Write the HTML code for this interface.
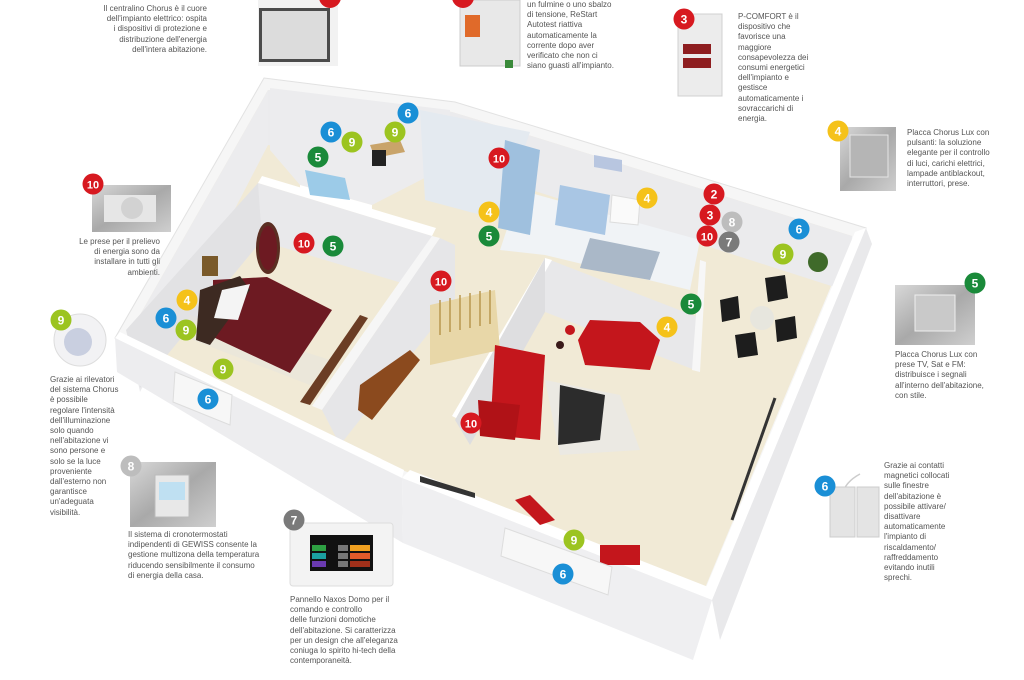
<!DOCTYPE html>
<html><head><meta charset="utf-8"><style>
html,body{margin:0;padding:0;background:#fff;}
body{width:1024px;height:680px;overflow:hidden;position:relative;font-family:"Liberation Sans",sans-serif;}
.t{position:absolute;font-size:8px;line-height:10.2px;color:#555;white-space:nowrap;}
svg{position:absolute;left:0;top:0;}
</style></head><body>
<svg width="1024" height="680" viewBox="0 0 1024 680">
<defs>
<linearGradient id="met" x1="0" y1="0" x2="1" y2="1"><stop offset="0" stop-color="#d8d8d8"/><stop offset="0.5" stop-color="#a9a9a9"/><stop offset="1" stop-color="#cfcfcf"/></linearGradient>
</defs>
<!-- house outer wall tops -->
<polygon points="264,78 455,102 540,128 866,228 783,420 712,600 402,478 115,338" fill="#f6f6f6" stroke="#e2e2e2"/>
<!-- floor -->
<polygon points="268,90 452,112 538,138 852,236 775,420 705,588 402,470 128,336" fill="#f1ead6"/>
<!-- back wall interior faces -->
<polygon points="268,90 452,112 538,138 852,236 850,292 538,192 452,166 268,145" fill="#ebebed"/>
<polygon points="268,90 268,145 140,392 128,336" fill="#ececee"/>
<!-- small bedroom area walls -->
<polygon points="270,88 450,110 450,165 372,205 300,185 270,150" fill="#ececee"/>
<polygon points="300,185 372,205 372,213 300,193" fill="#fff"/>
<!-- bathroom -->
<polygon points="420,110 530,132 500,220 425,200" fill="#e4eaf0"/>
<!-- kitchen floor tiles -->
<polygon points="520,190 700,240 690,290 545,255 500,250" fill="#f0f3f6"/>
<polygon points="590,238 660,252 650,280 580,268" fill="#aab8c8"/>
<!-- kitchen counters blue -->
<polygon points="505,140 540,150 530,235 498,228" fill="#9fc0de"/>
<polygon points="560,185 610,195 605,235 555,225" fill="#a9c6e4"/>
<polygon points="612,195 640,200 638,225 610,222" fill="#fafafa" stroke="#ddd"/>
<polygon points="594,155 622,160 622,172 594,167" fill="#b8c6e0"/>
<!-- bedroom walls -->
<polygon points="258,183 432,236 432,292 258,240" fill="#e9e9eb"/>
<polygon points="258,183 262,240 140,388 126,330" fill="#e2e2e4"/>
<polygon points="258,183 432,236 436,228 262,176" fill="#fff"/>
<!-- hallway partition -->
<polygon points="432,236 440,238 322,410 312,406" fill="#f6f6f6"/>
<polygon points="440,238 455,245 455,300 340,445 322,410" fill="#e6e6e8"/>
<!-- living room walls -->
<polygon points="545,258 700,318 700,372 545,312" fill="#e8e8ea"/>
<polygon points="545,258 552,260 460,420 452,416" fill="#fff"/>
<polygon points="545,258 545,312 470,445 455,420" fill="#dedee0"/>
<polygon points="700,260 706,262 700,372 692,370" fill="#f7f7f7"/>
<!-- bed -->
<polygon points="180,335 310,385 330,360 190,315" fill="#e8e4dc" opacity="0.6"/>
<polygon points="213,280 267,277 332,310 290,373 213,337" fill="#6d1a22"/>
<polygon points="200,290 240,276 250,290 210,345 196,340" fill="#3d2a22"/>
<polygon points="222,290 250,284 238,320 214,318" fill="#f4f4f4"/>
<ellipse cx="268" cy="248" rx="12" ry="26" fill="#5b2e22"/>
<ellipse cx="268" cy="248" rx="9" ry="22" fill="#6d1a22"/>
<rect x="202" y="256" width="16" height="20" fill="#7a5a2a"/>
<!-- small bedroom -->
<polygon points="305,170 345,178 350,200 310,195" fill="#9ccbe8"/>
<polygon points="370,145 400,140 405,152 375,158" fill="#c9a46a"/>
<rect x="372" y="150" width="14" height="16" fill="#222"/>
<!-- wardrobe brown strip -->
<polygon points="360,315 368,318 310,405 300,402" fill="#6b3d24"/>
<!-- stairs -->
<polygon points="430,305 495,290 500,350 430,365" fill="#e8d7a8"/>
<g stroke="#b9974f" stroke-width="1.5">
<line x1="440" y1="300" x2="440" y2="335"/><line x1="450" y1="298" x2="450" y2="332"/><line x1="460" y1="295" x2="460" y2="330"/><line x1="470" y1="293" x2="470" y2="328"/><line x1="480" y1="291" x2="480" y2="326"/><line x1="490" y1="290" x2="490" y2="324"/>
</g>
<!-- cabinet -->
<polygon points="360,385 410,350 420,360 372,420 358,410" fill="#8b4a1e"/>
<!-- living room furniture -->
<polygon points="545,380 620,395 640,450 560,455" fill="#e8e8e8" opacity="0.7"/>
<polygon points="590,320 640,322 660,340 650,370 585,365 578,340" fill="#c4161c"/>
<polygon points="495,345 545,355 540,440 490,435" fill="#c4161c"/>
<polygon points="478,400 520,405 515,440 480,436" fill="#b01217"/>
<polygon points="560,385 605,395 600,440 558,445" fill="#2c2c2c"/>
<circle cx="570" cy="330" r="5" fill="#c4161c"/>
<circle cx="560" cy="345" r="4" fill="#3a1a1a"/>
<!-- dining chairs -->
<circle cx="762" cy="318" r="12" fill="#e5e5e0" opacity="0.8"/>
<g fill="#1d1d1d">
<polygon points="720,300 738,296 740,318 722,322"/>
<polygon points="765,278 785,275 788,298 768,302"/>
<polygon points="735,335 755,332 758,355 738,358"/>
<polygon points="775,320 795,316 797,338 777,342"/>
</g>
<circle cx="818" cy="262" r="10" fill="#3f6a2a"/>
<line x1="775" y1="398" x2="732" y2="520" stroke="#333" stroke-width="3"/>
<!-- front left wall face -->
<polygon points="115,338 402,478 403,543 117,372" fill="#ededef"/>
<polygon points="115,338 402,478 404,470 120,332" fill="#fff"/>
<polygon points="175,372 232,395 230,425 173,402" fill="#f7f7f7" stroke="#ddd"/>
<!-- lower front wall -->
<polygon points="402,478 712,600 693,660 403,543" fill="#efeff1"/>
<polygon points="402,478 712,600 716,590 410,470" fill="#fff"/>
<polygon points="420,476 475,493 475,498 420,482" fill="#333"/>
<polygon points="515,500 530,495 555,520 540,525" fill="#c4161c"/>
<polygon points="600,545 640,545 640,565 600,565" fill="#c4161c"/>
<polygon points="505,528 612,567 608,595 501,556" fill="#f7f7f7" stroke="#ddd"/>
<!-- right wall -->
<polygon points="866,228 872,244 720,640 712,600" fill="#e9e9eb"/>
<polygon points="866,228 712,600 705,590 855,232" fill="#fff"/>
<!-- product images -->
<rect x="258" y="0" width="80" height="66" fill="#f2f2f2"/>
<rect x="259" y="8" width="71" height="54" fill="#4b4b4b"/>
<rect x="262" y="11" width="65" height="48" fill="#dcdcdc"/>
<rect x="460" y="0" width="60" height="66" fill="#e8e8e8" stroke="#ccc"/>
<rect x="465" y="15" width="15" height="22" fill="#e06a2a"/>
<rect x="505" y="60" width="8" height="8" fill="#3a8a3a"/>
<rect x="678" y="14" width="44" height="82" fill="#ececec" stroke="#d0d0d0"/>
<rect x="683" y="44" width="28" height="10" fill="#8e1e20"/>
<rect x="683" y="58" width="28" height="10" fill="#8e1e20"/>
<rect x="840" y="127" width="56" height="64" fill="url(#met)"/>
<rect x="850" y="135" width="38" height="42" fill="#b5b5b5" stroke="#e5e5e5"/>
<rect x="92" y="185" width="79" height="47" fill="url(#met)"/>
<rect x="104" y="195" width="52" height="27" fill="#e6e6e6"/>
<circle cx="132" cy="208" r="11" fill="#d2d2d2"/>
<circle cx="80" cy="340" r="26" fill="#f2f2f4" stroke="#ddd"/>
<circle cx="78" cy="342" r="14" fill="#c9cfe0"/>
<rect x="130" y="462" width="86" height="65" fill="url(#met)"/>
<rect x="155" y="475" width="34" height="42" fill="#e8e8e8" stroke="#bbb"/>
<rect x="159" y="482" width="26" height="18" fill="#bfe0f2"/>
<rect x="290" y="523" width="103" height="63" rx="3" fill="#f3f3f3" stroke="#ddd"/>
<rect x="310" y="535" width="63" height="36" fill="#111"/>
<rect x="312" y="545" width="14" height="6" fill="#2ea043"/><rect x="338" y="545" width="10" height="6" fill="#777"/><rect x="350" y="545" width="20" height="6" fill="#f0a020"/>
<rect x="312" y="553" width="14" height="6" fill="#1ba0a0"/><rect x="338" y="553" width="10" height="6" fill="#777"/><rect x="350" y="553" width="20" height="6" fill="#e05a2a"/>
<rect x="312" y="561" width="14" height="6" fill="#6a3ab0"/><rect x="338" y="561" width="10" height="6" fill="#777"/><rect x="350" y="561" width="20" height="6" fill="#a0301a"/>
<rect x="895" y="285" width="80" height="60" fill="url(#met)"/>
<rect x="915" y="295" width="40" height="36" fill="#c9c9c9" stroke="#eee"/>
<path d="M860 474 Q845 482 842 495" stroke="#ccc" fill="none" stroke-width="1.5"/>
<rect x="830" y="487" width="25" height="50" fill="#e4e4e4" stroke="#ccc"/>
<rect x="857" y="487" width="22" height="50" fill="#e4e4e4" stroke="#ccc"/>
<!-- badges -->
<g font-family="Liberation Sans, sans-serif" font-weight="bold" text-anchor="middle" fill="#fff">
<circle cx="330" cy="-3" r="11" fill="#d71920"/>
<circle cx="463" cy="-3" r="11" fill="#d71920"/>
<circle cx="684" cy="19" r="10.5" fill="#d71920"/><text x="684" y="23.5" font-size="12">3</text>
<circle cx="838" cy="131" r="10.5" fill="#f5c21a"/><text x="838" y="135.5" font-size="12">4</text>
<circle cx="93" cy="184" r="10.5" fill="#d71920"/><text x="93" y="188.5" font-size="11">10</text>
<circle cx="61" cy="320" r="10.5" fill="#9cc420"/><text x="61" y="324.5" font-size="12">9</text>
<circle cx="975" cy="283" r="10.5" fill="#1a8a3a"/><text x="975" y="287.5" font-size="12">5</text>
<circle cx="131" cy="466" r="10.5" fill="#bdbdbd"/><text x="131" y="470.5" font-size="12">8</text>
<circle cx="294" cy="520" r="10.5" fill="#7a7a7a"/><text x="294" y="524.5" font-size="12">7</text>
<circle cx="825" cy="486" r="10.5" fill="#1a8fd6"/><text x="825" y="490.5" font-size="12">6</text>
<circle cx="408" cy="113" r="10.5" fill="#1a8fd6"/><text x="408" y="117.5" font-size="12">6</text>
<circle cx="331" cy="132" r="10.5" fill="#1a8fd6"/><text x="331" y="136.5" font-size="12">6</text>
<circle cx="395" cy="132" r="10.5" fill="#9cc420"/><text x="395" y="136.5" font-size="12">9</text>
<circle cx="352" cy="142" r="10.5" fill="#9cc420"/><text x="352" y="146.5" font-size="12">9</text>
<circle cx="318" cy="157" r="10.5" fill="#1a8a3a"/><text x="318" y="161.5" font-size="12">5</text>
<circle cx="499" cy="158" r="10.5" fill="#d71920"/><text x="499" y="162.5" font-size="11">10</text>
<circle cx="647" cy="198" r="10.5" fill="#f5c21a"/><text x="647" y="202.5" font-size="12">4</text>
<circle cx="714" cy="194" r="10.5" fill="#d71920"/><text x="714" y="198.5" font-size="12">2</text>
<circle cx="710" cy="215" r="10.5" fill="#d71920"/><text x="710" y="219.5" font-size="12">3</text>
<circle cx="732" cy="222" r="10.5" fill="#bdbdbd"/><text x="732" y="226.5" font-size="12">8</text>
<circle cx="707" cy="236" r="10.5" fill="#d71920"/><text x="707" y="240.5" font-size="11">10</text>
<circle cx="729" cy="242" r="10.5" fill="#7a7a7a"/><text x="729" y="246.5" font-size="12">7</text>
<circle cx="799" cy="229" r="10.5" fill="#1a8fd6"/><text x="799" y="233.5" font-size="12">6</text>
<circle cx="783" cy="254" r="10.5" fill="#9cc420"/><text x="783" y="258.5" font-size="12">9</text>
<circle cx="489" cy="212" r="10.5" fill="#f5c21a"/><text x="489" y="216.5" font-size="12">4</text>
<circle cx="489" cy="236" r="10.5" fill="#1a8a3a"/><text x="489" y="240.5" font-size="12">5</text>
<circle cx="304" cy="243" r="10.5" fill="#d71920"/><text x="304" y="247.5" font-size="11">10</text>
<circle cx="333" cy="246" r="10.5" fill="#1a8a3a"/><text x="333" y="250.5" font-size="12">5</text>
<circle cx="441" cy="281" r="10.5" fill="#d71920"/><text x="441" y="285.5" font-size="11">10</text>
<circle cx="691" cy="304" r="10.5" fill="#1a8a3a"/><text x="691" y="308.5" font-size="12">5</text>
<circle cx="667" cy="327" r="10.5" fill="#f5c21a"/><text x="667" y="331.5" font-size="12">4</text>
<circle cx="187" cy="300" r="10.5" fill="#f5c21a"/><text x="187" y="304.5" font-size="12">4</text>
<circle cx="166" cy="318" r="10.5" fill="#1a8fd6"/><text x="166" y="322.5" font-size="12">6</text>
<circle cx="186" cy="330" r="10.5" fill="#9cc420"/><text x="186" y="334.5" font-size="12">9</text>
<circle cx="223" cy="369" r="10.5" fill="#9cc420"/><text x="223" y="373.5" font-size="12">9</text>
<circle cx="208" cy="399" r="10.5" fill="#1a8fd6"/><text x="208" y="403.5" font-size="12">6</text>
<circle cx="471" cy="423" r="10.5" fill="#d71920"/><text x="471" y="427.5" font-size="11">10</text>
<circle cx="574" cy="540" r="10.5" fill="#9cc420"/><text x="574" y="544.5" font-size="12">9</text>
<circle cx="563" cy="574" r="10.5" fill="#1a8fd6"/><text x="563" y="578.5" font-size="12">6</text>
</g>
</svg>

<div class="t" style="right:817px;top:4px;text-align:right;">Il centralino Chorus è il cuore<br>dell'impianto elettrico: ospita<br>i dispositivi di protezione e<br>distribuzione dell'energia<br>dell'intera abitazione.</div>
<div class="t" style="left:527px;top:0px;">un fulmine o uno sbalzo<br>di tensione, ReStart<br>Autotest riattiva<br>automaticamente la<br>corrente dopo aver<br>verificato che non ci<br>siano guasti all'impianto.</div>
<div class="t" style="left:738px;top:12px;">P-COMFORT è il<br>dispositivo che<br>favorisce una<br>maggiore<br>consapevolezza dei<br>consumi energetici<br>dell'impianto e<br>gestisce<br>automaticamente i<br>sovraccarichi di<br>energia.</div>
<div class="t" style="left:907px;top:128px;">Placca Chorus Lux con<br>pulsanti: la soluzione<br>elegante per il controllo<br>di luci, carichi elettrici,<br>lampade antiblackout,<br>interruttori, prese.</div>
<div class="t" style="right:864px;top:237px;text-align:right;">Le prese per il prelievo<br>di energia sono da<br>installare in tutti gli<br>ambienti.</div>
<div class="t" style="left:50px;top:375px;">Grazie ai rilevatori<br>del sistema Chorus<br>è possibile<br>regolare l'intensità<br>dell'illuminazione<br>solo quando<br>nell'abitazione vi<br>sono persone e<br>solo se la luce<br>proveniente<br>dall'esterno non<br>garantisce<br>un'adeguata<br>visibilità.</div>
<div class="t" style="left:128px;top:530px;">Il sistema di cronotermostati<br>indipendenti di GEWISS consente la<br>gestione multizona della temperatura<br>riducendo sensibilmente il consumo<br>di energia della casa.</div>
<div class="t" style="left:290px;top:595px;">Pannello Naxos Domo per il<br>comando e controllo<br>delle funzioni domotiche<br>dell'abitazione. Si caratterizza<br>per un design che all'eleganza<br>coniuga lo spirito hi-tech della<br>contemporaneità.</div>
<div class="t" style="left:895px;top:350px;">Placca Chorus Lux con<br>prese TV, Sat e FM:<br>distribuisce i segnali<br>all'interno dell'abitazione,<br>con stile.</div>
<div class="t" style="left:884px;top:461px;">Grazie ai contatti<br>magnetici collocati<br>sulle finestre<br>dell'abitazione è<br>possibile attivare/<br>disattivare<br>automaticamente<br>l'impianto di<br>riscaldamento/<br>raffreddamento<br>evitando inutili<br>sprechi.</div>
</body></html>
